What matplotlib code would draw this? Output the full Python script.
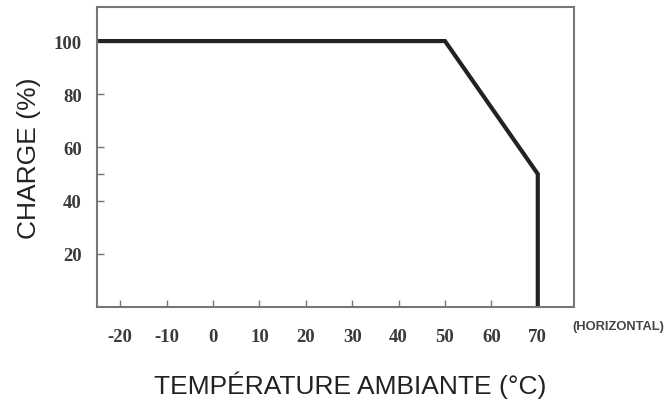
import matplotlib.pyplot as plt

# derating curve
temp = [-25, 50, 70, 70]
load = [100, 100, 50, 0]

xticks = [-20, -10, 0, 10, 20, 30, 40, 50, 60, 70]
xlabels = ['-20', '-10', '0', '10', '20', '30', '40', '50', '60', '70']
yticks = [20, 40, 60, 80, 100]

fig = plt.figure(figsize=(6.71, 4.02), dpi=100)
ax = fig.add_axes([0.1446, 0.234, 0.7108, 0.746])

ax.plot(temp, load, color='#222222', lw=3.0, solid_joinstyle='miter')

ax.set_xlim(-25, 77.8)
ax.set_ylim(0, 112.8)

ax.set_xticks(xticks, xlabels)
ax.set_yticks(yticks)
ax.set_yticks([50], minor=True)
ax.tick_params(direction='in', length=5, width=1, color='#777777')
ax.tick_params(which='minor', direction='in', length=5, width=1, color='#777777')
ax.tick_params(axis='x', pad=15)
ax.tick_params(axis='y', pad=11)
for lbl in ax.get_xticklabels() + ax.get_yticklabels():
    lbl.set_fontfamily('Liberation Serif')
    lbl.set_fontsize(13.5)
    lbl.set_fontweight('bold')
    lbl.set_color('#3a3a3a')

for s in ax.spines.values():
    s.set_color('#777777')
    s.set_linewidth(1.5)

ax.set_xlabel('TEMPÉRATURE AMBIANTE (°C)', family='Liberation Sans',
              fontsize=19, color='#222222')
ax.xaxis.set_label_coords(0.53, -0.213)
ax.set_ylabel('CHARGE (%)', family='Liberation Sans',
              fontsize=19, color='#222222', labelpad=9)

fig.text(0.921, 0.187, '(HORIZONTAL)', family='Liberation Sans', fontsize=9.3,
         fontweight='bold', color='#444444', ha='center', va='center')

fig.savefig('out.png', dpi=100, facecolor='white')
